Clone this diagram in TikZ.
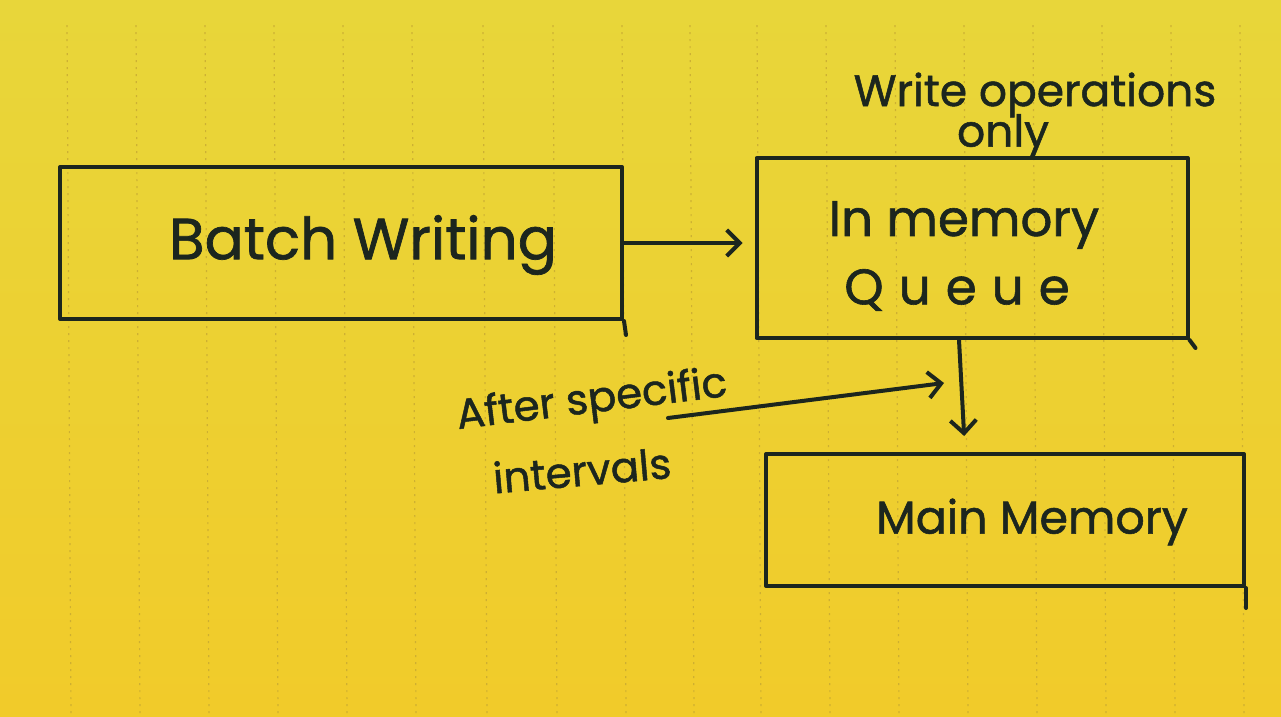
\documentclass[tikz,border=0pt]{standalone}
\usepackage{fontspec}
\setmainfont{Poppins}
\newcommand{\mk}{\addfontfeature{FakeBold=1.2}}
\usetikzlibrary{arrows.meta,calc}
\definecolor{paperT}{RGB}{232,214,58}
\definecolor{paperB}{RGB}{241,203,42}
\definecolor{rule}{RGB}{196,166,50}
\definecolor{ink}{RGB}{28,38,30}
\begin{document}
\begin{tikzpicture}[x=1pt,y=-1pt,
  pen/.style={draw=ink,line width=4pt,line cap=round,line join=round},
  boxnode/.style={pen,rectangle,inner sep=0pt},
  hand/.style={text=ink,inner sep=0pt,anchor=center},
  arr/.style={pen,-{Straight Barb[length=13pt,width=26pt,line width=4pt]}}]
\useasboundingbox (0,0) rectangle (1281,716);
\fill[top color=paperT,bottom color=paperB] (0,0) rectangle (1281,716);
\foreach \xx in {67,136,205,274,343,412,483,553,622,690,757,826,895,964,1033,1102,1171,1240}
  \draw[rule,line width=1.2pt,dash pattern=on 2pt off 5pt,opacity=0.75] (\xx,25) -- (\xx+4,716);

% boxes
\node[boxnode,minimum width=562pt,minimum height=152pt] (batch) at (341,243) {};
\node[boxnode,minimum width=431pt,minimum height=180pt] (queue) at (972,248) {};
\node[boxnode,minimum width=478pt,minimum height=132pt] (main) at (1005,520) {};

% overshooting strokes
\draw[pen] (batch.south east) -- ++(2,14);
\draw[pen] (queue.south east) -- ++(6,8);
\draw[pen] (main.south east) -- ++(0,20);

% texts
\node[hand,font=\fontsize{58}{64}\selectfont\mk] (tbatch) at (363,245) {Batch Writing};
\node[hand,font=\fontsize{50}{56}\selectfont\mk] (tmem) at (964,225) {In memory};
\node[hand,font=\fontsize{50}{56}\selectfont\mk\addfontfeature{LetterSpace=30}] (tqueue) at (957,290) {Queue};
\node[hand,font=\fontsize{46}{50}\selectfont\mk] (tmain) at (1032,522) {Main Memory};
\node[hand,font=\fontsize{44}{50}\selectfont\mk] (twrite) at (1035,95) {Write operations};
\node[hand,font=\fontsize{44}{50}\selectfont\mk] (tonly) at (1003,136) {only};
\node[hand,font=\fontsize{42}{46}\selectfont\mk,rotate=7] (tafter) at (592,402) {After specific};
\node[hand,font=\fontsize{42}{46}\selectfont\mk,rotate=5] (tint) at (582,470) {intervals};

% connectors
\draw[arr,shorten >=12pt] (batch.east) -- (batch.east -| queue.west);
\coordinate (qd) at ($(queue.south)+(-13,0)$);
\coordinate (md) at ($(main.north)+(-40,0)$);
\draw[arr,shorten >=16pt] (qd) -- (md);
\coordinate (a1) at (668,418);
\coordinate (a2) at (944,383);
\draw[arr] (a1) -- (a2);
\end{tikzpicture}
\end{document}
